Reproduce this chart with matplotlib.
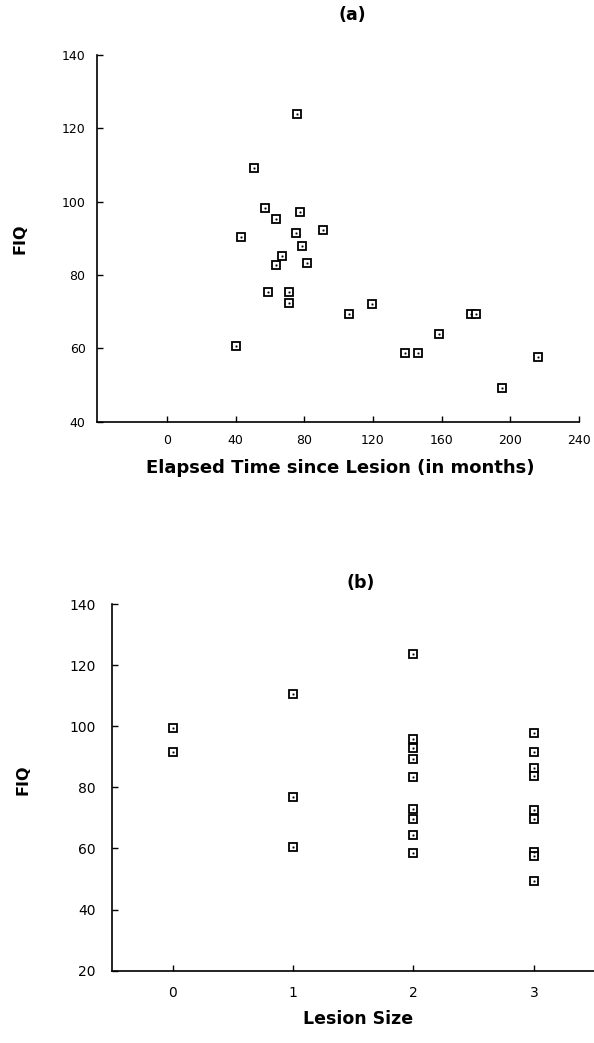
import matplotlib
matplotlib.use("Agg")
import matplotlib.pyplot as plt

# Panel (a): elapsed time since lesion (months) vs FIQ
elapsed_months = [75.5, 50.7, 56.9, 63.3, 77.5, 90.9, 43.3, 75.3, 78.4, 67.0,
                  63.3, 81.6, 58.8, 71.1, 71.1, 106.0, 119.4, 40.0, 138.8, 146.0,
                  158.3, 177.1, 180.0, 195.1, 216.3]
fiq_a = [123.8, 109.3, 98.4, 95.4, 97.3, 92.4, 90.5, 91.5, 88.0, 85.2,
         82.6, 83.4, 75.3, 75.3, 72.3, 69.3, 72.2, 60.7, 58.6, 58.6,
         64.0, 69.3, 69.3, 49.3, 57.6]

# Panel (b): lesion size vs FIQ
lesion_size = [0, 0,
               1, 1, 1,
               2, 2, 2, 2, 2, 2, 2, 2, 2,
               3, 3, 3, 3, 3, 3, 3, 3, 3]
fiq_b = [99.5, 91.5,
         110.5, 76.7, 60.5,
         123.8, 95.9, 92.8, 89.2, 83.5, 72.9, 69.7, 64.5, 58.6,
         97.7, 91.5, 86.3, 83.8, 72.6, 69.5, 58.9, 57.6, 49.3]

xticks_a = [0, 40, 80, 120, 160, 200, 240]
yticks_a = [40, 60, 80, 100, 120, 140]
xticks_b = [0, 1, 2, 3]
yticks_b = [20, 40, 60, 80, 100, 120, 140]

W, H = 594, 1043
fig = plt.figure(figsize=(W / 100, H / 100), dpi=100)

ax_a = fig.add_axes([96.7 / W, 1 - 421.7 / H, (579 - 96.7) / W, (421.7 - 55) / H])
ax_b = fig.add_axes([111.7 / W, 1 - 970.7 / H, (594 - 111.7) / W, (970.7 - 604) / H])

def style(ax, fs, xpad, ypad):
    for s in ("top", "right"):
        ax.spines[s].set_visible(False)
    for s in ("left", "bottom"):
        ax.spines[s].set_linewidth(1.2)
    ax.tick_params(axis="both", direction="in", length=4, width=1.0, labelsize=fs)
    ax.tick_params(axis="x", direction="in", pad=xpad)
    ax.tick_params(axis="y", direction="in", pad=ypad)

def scatter(ax, x, y):
    ax.plot(x, y, linestyle="none", marker="s", ms=5.2, mfc="white",
            mec="black", mew=1.3, clip_on=False)
    ax.plot(x, y, linestyle="none", marker="s", ms=1.0, mfc="black",
            mec="black", mew=0.3, clip_on=False)

# Panel (a)
scatter(ax_a, elapsed_months, fiq_a)
ax_a.set_xlim(-41, 240)
ax_a.set_ylim(40, 140)
ax_a.set_xticks(xticks_a)
ax_a.set_yticks(yticks_a)
style(ax_a, 9, 8.5, 8)
ax_a.set_xlabel("Elapsed Time since Lesion (in months)", fontsize=13, fontweight="bold")
ax_a.xaxis.set_label_coords(0.504, -0.103)
ax_a.set_ylabel("FIQ", fontsize=11.5, fontweight="bold")
ax_a.yaxis.set_label_coords(-0.143, 0.5)
fig.text(352 / W, 1 - 15 / H, "(a)", ha="center", va="center", fontsize=12.5, fontweight="bold")

# Panel (b)
scatter(ax_b, lesion_size, fiq_b)
ax_b.set_xlim(-0.507, 3.5)
ax_b.set_ylim(20, 140)
ax_b.set_xticks(xticks_b)
ax_b.set_yticks(yticks_b)
style(ax_b, 10, 11, 11.5)
ax_b.set_xlabel("Lesion Size", fontsize=12.5, fontweight="bold")
ax_b.xaxis.set_label_coords(0.511, -0.108)
ax_b.set_ylabel("FIQ", fontsize=11.5, fontweight="bold")
ax_b.yaxis.set_label_coords(-0.168, 0.52)
fig.text(361 / W, 1 - 583 / H, "(b)", ha="center", va="center", fontsize=12.5, fontweight="bold")

fig.savefig("out.png", dpi=100)
